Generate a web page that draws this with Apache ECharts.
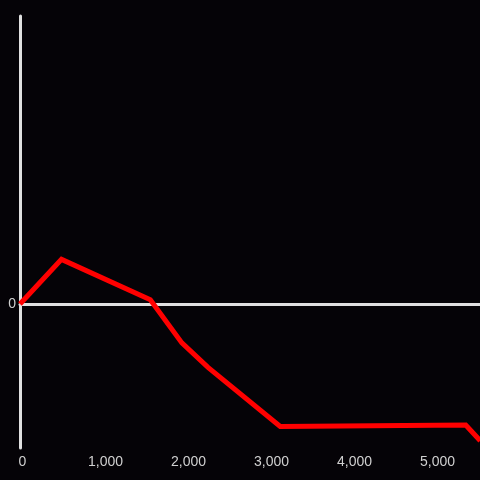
<!DOCTYPE html>
<html>
<head>
<meta charset="utf-8">
<script src="https://cdn.jsdelivr.net/npm/echarts@6/dist/echarts.min.js"></script>
<style>
html,body{margin:0;padding:0;background:#050307;}
#chart{width:480px;height:480px;}
</style>
</head>
<body>
<div id="chart"></div>
<script>
var xValues = [0, 500, 1570, 1950, 2265, 3135, 5370, 5545];
var yValues = [0, 31, 3, -27, -44, -85, -84, -95];
var xTickLabels = ['0', '1,000', '2,000', '3,000', '4,000', '5,000'];

var lineData = xValues.map(function (x, i) { return [x, yValues[i]]; });

var chart = echarts.init(document.getElementById('chart'), null, {renderer: 'canvas'});
chart.setOption({
  backgroundColor: '#050307',
  animation: false,
  grid: {left: 20, right: 0, top: 16, bottom: 32, containLabel: false},
  xAxis: [{
    type: 'value',
    min: 0,
    max: 5542,
    interval: 1000,
    position: 'bottom',
    axisLine: {show: false, onZero: false},
    axisTick: {show: false},
    splitLine: {show: false},
    axisLabel: {
      color: '#d0d0d0',
      fontSize: 14,
      fontFamily: 'Liberation Sans',
      margin: 7,
      padding: [0, 0, 0, 5],
      showMaxLabel: false,
      formatter: function (v) {
        var i = Math.round(v / 1000);
        return xTickLabels[i] !== undefined ? xTickLabels[i] : '';
      }
    }
  }, {
    type: 'value',
    min: 0,
    max: 5542,
    position: 'bottom',
    axisLine: {show: true, onZero: true, lineStyle: {color: '#e0e0e0', width: 3}},
    axisTick: {show: false},
    axisLabel: {show: false},
    splitLine: {show: false}
  }],
  yAxis: {
    type: 'value',
    min: -100,
    max: 200,
    interval: 100,
    axisLine: {show: true, onZero: false, lineStyle: {color: '#e0e0e0', width: 3}},
    axisTick: {show: false},
    splitLine: {show: false},
    axisLabel: {
      color: '#d0d0d0',
      fontSize: 14,
      fontFamily: 'Liberation Sans',
      margin: 4,
      padding: [2, 0, 0, 0],
      formatter: function (v) { return v === 0 ? '0' : ''; }
    }
  },
  series: [{
    type: 'line',
    data: lineData,
    xAxisIndex: 0,
    showSymbol: false,
    symbol: 'none',
    clip: true,
    lineStyle: {color: '#ff0000', width: 5, join: 'miter'}
  }]
});
</script>
</body>
</html>
